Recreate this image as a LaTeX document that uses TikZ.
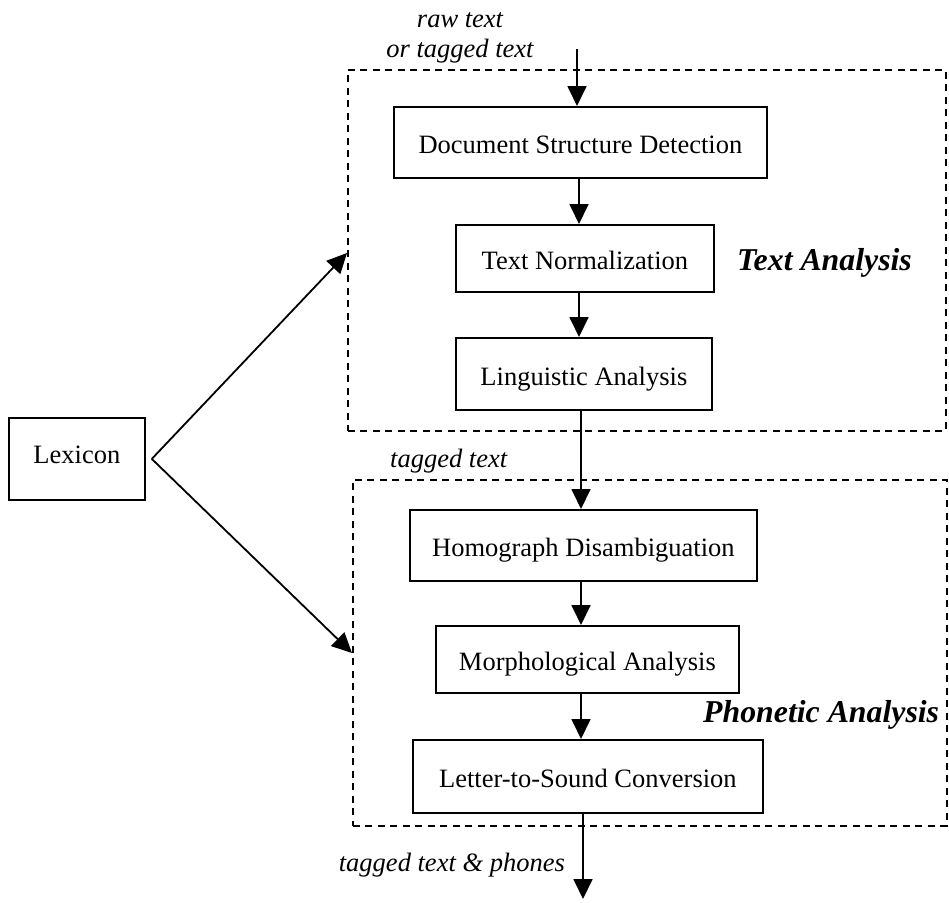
\documentclass[tikz,border=0pt]{standalone}
\usepackage{fontspec}
\setmainfont{Liberation Serif}
\usetikzlibrary{arrows.meta,calc}
\begin{document}
\begin{tikzpicture}[x=1pt,y=-1pt,
  font=\fontsize{26.5}{30}\selectfont,
  stepbox/.style={draw,line width=1.8pt,inner sep=0pt,anchor=north west,text height=22.5pt,text depth=0pt},
  groupbox/.style={draw,line width=1.6pt,dash pattern=on 7pt off 5.5pt,inner sep=0pt,anchor=north west},
  flow/.style={line width=1.8pt,-{Triangle[length=20pt,width=19pt]}},
  lab/.style={font=\fontsize{26.5}{30}\selectfont\itshape,inner sep=0pt},
  grouptitle/.style={font=\fontsize{31.8}{36}\selectfont\bfseries\itshape,inner sep=0pt}
]
\useasboundingbox (0,0) rectangle (949,902);

% group boxes
\node[groupbox,minimum width=598pt,minimum height=361pt] (ta) at (347,69) {};
\node[groupbox,minimum width=594pt,minimum height=346pt] (pa) at (352,479) {};

% steps
\node[stepbox,minimum width=373pt,minimum height=71pt] (dsd) at (393,106) {Document Structure Detection};
\node[stepbox,minimum width=258pt,minimum height=67pt] (tn) at (455,224) {Text Normalization};
\node[stepbox,minimum width=256pt,minimum height=72pt] (la) at (455,337) {Linguistic Analysis};
\node[stepbox,minimum width=347pt,minimum height=71pt] (hd) at (409,509) {Homograph Disambiguation};
\node[stepbox,minimum width=303pt,minimum height=67pt] (ma) at (435,625) {Morphological Analysis};
\node[stepbox,minimum width=350pt,minimum height=73pt] (lts) at (412,739) {Letter-to-Sound Conversion};
\node[stepbox,minimum width=136pt,minimum height=82pt,text height=10pt] (lex) at (8,417) {Lexicon};

% labels
\node[lab,align=center,anchor=base] (rawin) at (460,57) {raw text\\or tagged text};
\node[lab,anchor=base west] (tagged) at (390,467) {tagged text};
\node[lab,anchor=base east] (phones) at (565,871) {tagged text \& phones};
\node[grouptitle,anchor=base west] (tatitle) at (737,270) {Text Analysis};
\node[grouptitle,anchor=base west] (patitle) at (703,722) {Phonetic Analysis};

% columns and free ends
\coordinate (c1) at (579,0);
\coordinate (c2) at (581,0);
\coordinate (in) at (577,49);
\coordinate (out) at (583,899);
\coordinate (fork) at ($(lex.east)+(6,0)$);
\coordinate (t1) at (ta.west |- 0,253);
\coordinate (p1) at (pa.west |- 0,653);

% connectors
\draw[flow] (in) -- (in |- dsd.north);
\draw[flow] (dsd.south -| c1) -- (tn.north -| c1);
\draw[flow] (tn.south -| c1) -- (la.north -| c1);
\draw[flow] (la.south -| c2) -- (hd.north -| c2);
\draw[flow] (hd.south -| c2) -- (ma.north -| c2);
\draw[flow] (ma.south -| c2) -- (lts.north -| c2);
\draw[flow] (lts.south -| out) -- (out);
\draw[flow] (fork) -- (t1);
\draw[flow] (fork) -- (p1);
\end{tikzpicture}
\end{document}
